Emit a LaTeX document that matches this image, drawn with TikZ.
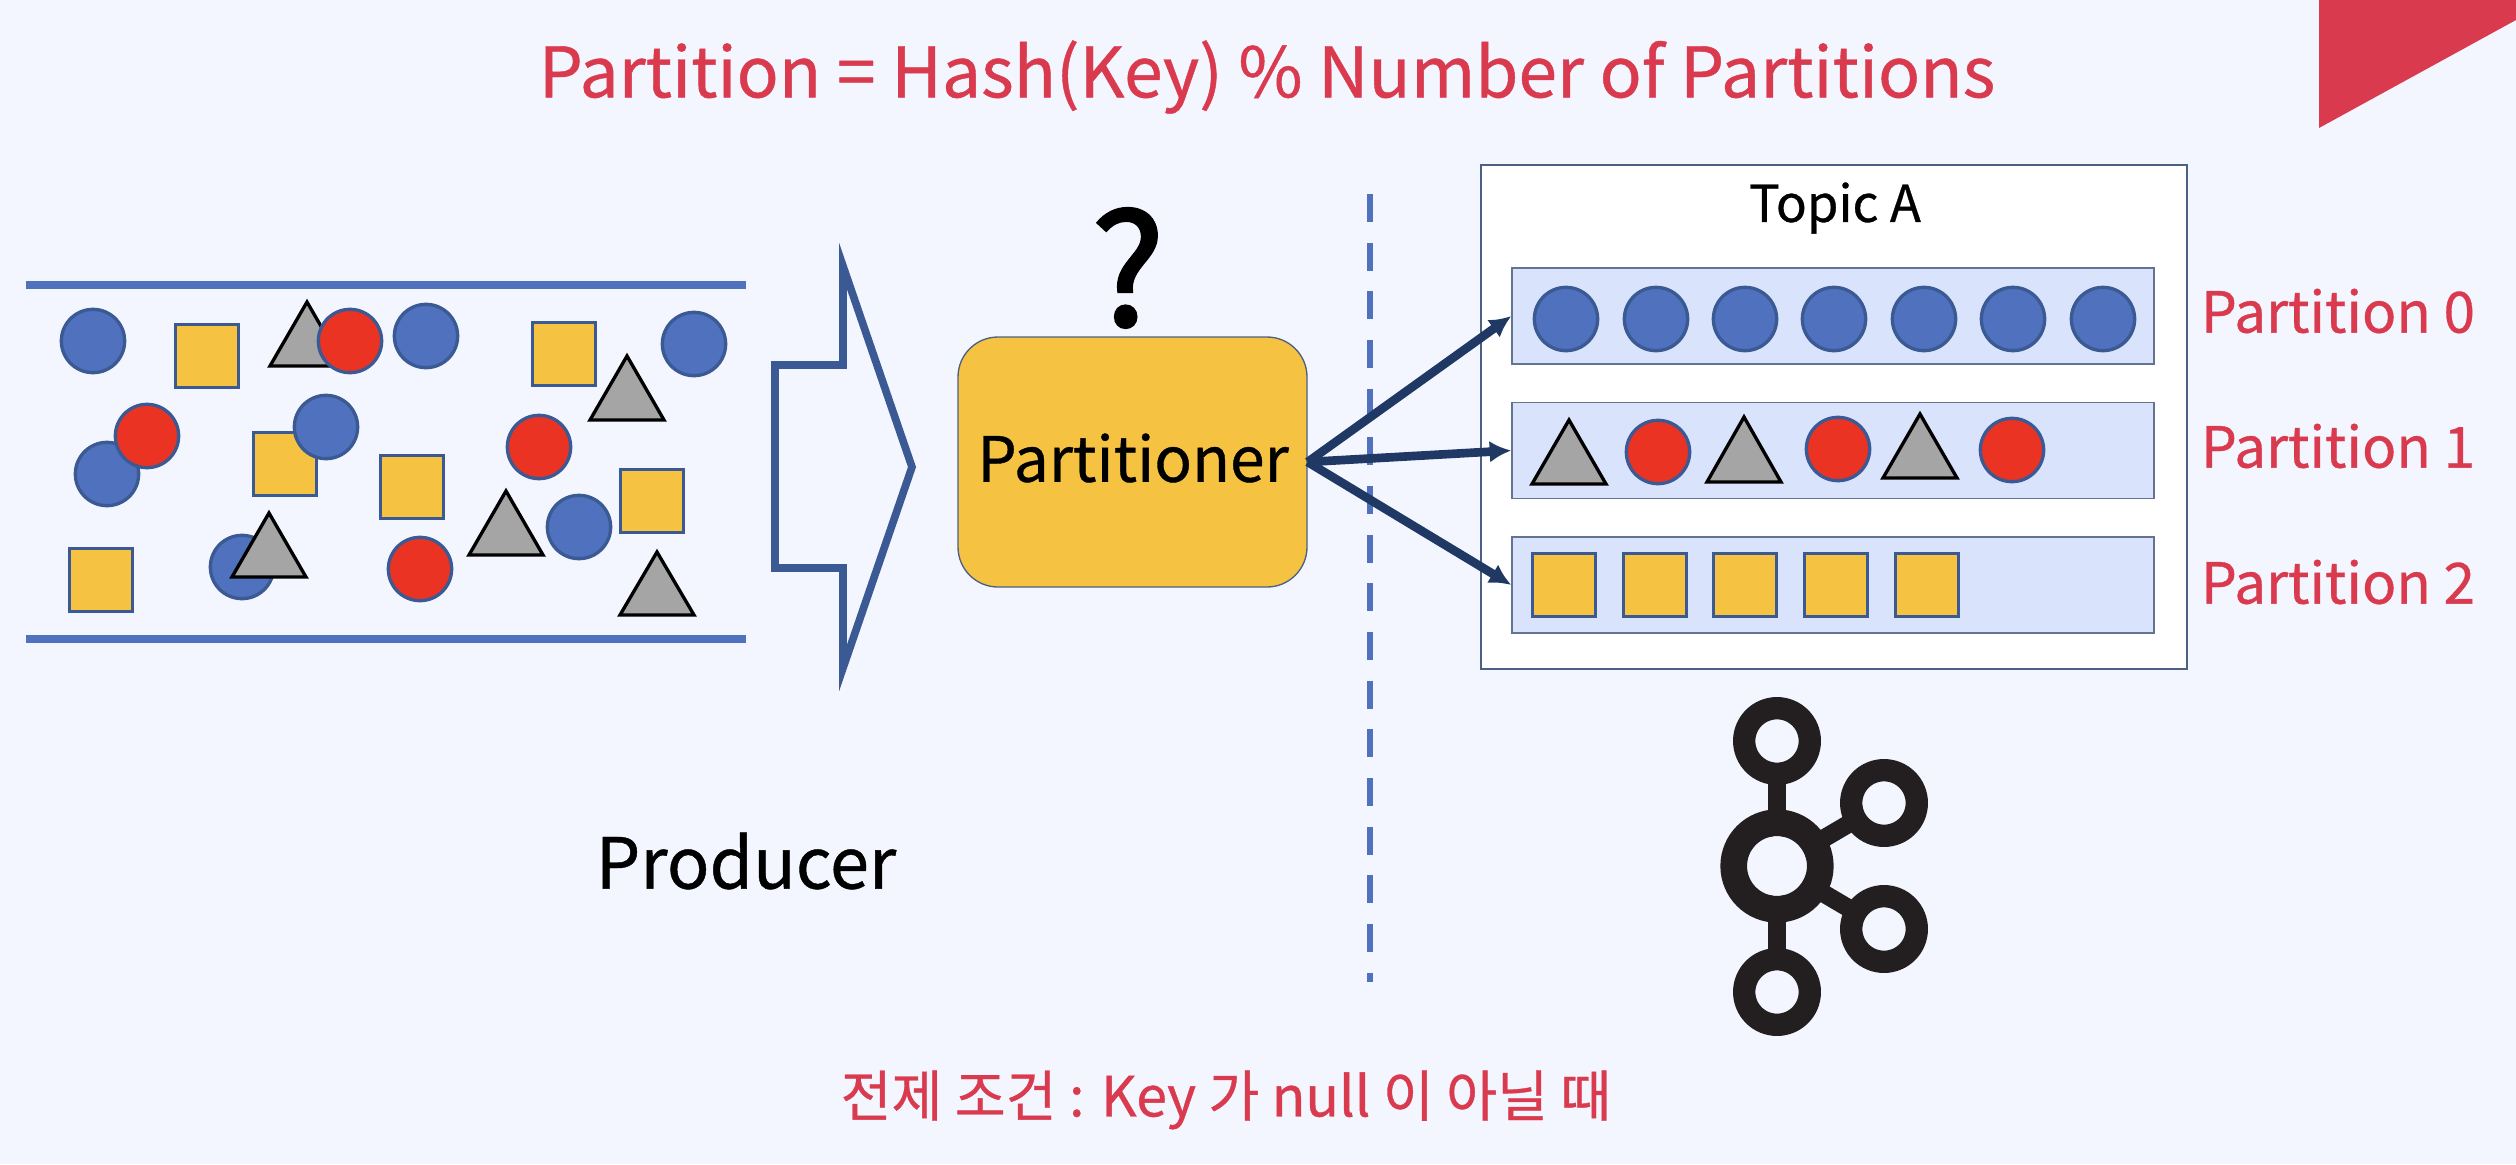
\documentclass[tikz,border=0pt]{standalone}
\usepackage{fontspec}
\setmainfont[FakeBold=0.6]{Noto Sans CJK KR}
\newfontfamily\qfont[FakeBold=2.2]{Noto Sans CJK KR}
\usetikzlibrary{arrows.meta}
\definecolor{bgc}{HTML}{F3F6FF}
\definecolor{redt}{HTML}{DA3A4E}
\definecolor{bluec}{HTML}{4F71BE}
\definecolor{blueo}{HTML}{3B5A94}
\definecolor{redc}{HTML}{EB3323}
\definecolor{yel}{HTML}{F5C242}
\definecolor{gry}{HTML}{A5A5A5}
\definecolor{navy}{HTML}{1F3864}
\definecolor{band}{HTML}{D9E3FB}
\definecolor{logo}{HTML}{231F20}
\tikzset{
 x=0.3pt,y=-0.3pt,
 ball/.style={circle,draw=blueo,line width=1pt,inner sep=0pt,minimum size=19pt},
 bb/.style={ball,fill=bluec},
 rb/.style={ball,fill=redc},
 sq/.style={rectangle,draw=blueo,line width=1pt,fill=yel,inner sep=0pt,minimum size=19pt},
 tri/.style={draw=black,line width=1pt,fill=gry,line join=miter},
 bandbox/.style={rectangle,draw=navy!70,line width=0.4pt,fill=band,inner sep=0pt,minimum width=192.6pt,minimum height=28.8pt},
 red label/.style={text=redt,font=\fontsize{17pt}{20pt}\selectfont,inner sep=0pt},
 blk label/.style={text=black,inner sep=0pt},
 conn/.style={navy,line width=2.6pt,-{Latex[length=6.5pt,width=6.5pt]}},
 ringo/.style={draw=logo,line width=6.7pt},
 ringc/.style={draw=logo,line width=8pt},
 bar/.style={draw=logo,line width=5.4pt},
}
\newcommand{\tria}[3]{\draw[tri] (#1,#2) -- (#1+37,#3) -- (#1-37,#3) -- cycle;}
\begin{document}
\begin{tikzpicture}
\useasboundingbox (0,0) rectangle (2516,1164);
\fill[bgc] (0,0) rectangle (2516,1164);
\fill[redt] (2319,0) -- (2516,0) -- (2516,20) -- (2319,128) -- cycle;
\node[red label,font=\fontsize{20.9pt}{26pt}\selectfont] (title) at (1267,77) {Partition = Hash(Key) \% Number of Partitions};
% stream
\coordinate (l1a) at (26,285); \coordinate (l1b) at (746,285);
\coordinate (l2a) at (26,639); \coordinate (l2b) at (746,639);
\draw[bluec,line width=2.2pt] (l1a) -- (l1b);
\draw[bluec,line width=2.2pt] (l2a) -- (l2b);
\tria{307}{302}{366}
\node[bb] (b1) at (93,341) {};
\node[bb] (b2) at (426,336) {};
\node[bb] (b3) at (694,344) {};
\node[bb] (b4) at (107,474) {};
\node[rb] (r1) at (350,341) {};
\node[rb] (r2) at (147,436) {};
\node[rb] (r3) at (539,447) {};
\node[rb] (r4) at (420,569) {};
\node[sq] (s1) at (207,356) {};
\node[sq] (s2) at (564,354) {};
\node[sq] (s3) at (285,464) {};
\node[sq] (s4) at (412,487) {};
\node[sq] (s5) at (652,501) {};
\node[sq] (s6) at (101,580) {};
\node[bb] (b5) at (326,427) {};
\node[bb] (b6) at (579,527) {};
\node[bb] (b7) at (242,567) {};
\tria{627}{356}{420}
\tria{506}{491}{555}
\tria{269}{513}{577}
\tria{657}{552}{615}
% big arrow
\draw[blueo,line width=2.3pt,miter limit=20] (775,365) -- (843,365) -- (843,266) -- (912,467) -- (843,668) -- (843,568) -- (775,568) -- cycle;
% partitioner
\node[rectangle,rounded corners=12pt,draw=navy!80,line width=0.4pt,fill=yel,inner sep=0pt,minimum width=104.7pt,minimum height=75pt] (part) at (1132.5,462) {};
\node[blk label,font=\fontsize{18.7pt}{22pt}\selectfont] (ptext) at (1133,458) {Partitioner};
\node[blk label,font=\qfont\fontsize{46pt}{50pt}\selectfont] (q) at (1128,268) {?};
\node[blk label,font=\fontsize{21.1pt}{25pt}\selectfont] (prod) at (746,861) {Producer};
% dashed
\coordinate (d1) at (1370,194); \coordinate (d2) at (1370,982);
\draw[bluec,line width=2pt,dash pattern=on 8.4pt off 6.2pt] (d1) -- (d2);
% topic
\node[rectangle,draw=navy!80,line width=0.4pt,fill=white,inner sep=0pt,minimum width=211.8pt,minimum height=151.2pt] (topic) at (1834,417) {};
\node[blk label,font=\fontsize{15.3pt}{18pt}\selectfont] (ttext) at (1835,208) {Topic A};
\node[bandbox] (p0) at (1833,316) {};
\node[bandbox] (p1) at (1833,450.5) {};
\node[bandbox] (p2) at (1833,585) {};
\node[bb] at (1566,319) {};
\node[bb] at (1656,319) {};
\node[bb] at (1745,319) {};
\node[bb] at (1834,319) {};
\node[bb] at (1924,319) {};
\node[bb] at (2013,319) {};
\node[bb] at (2103,319) {};
\tria{1569}{420}{484}
\node[rb] at (1658,452) {};
\tria{1744}{417}{482}
\node[rb] at (1838,449) {};
\tria{1920}{414}{478}
\node[rb] at (2012,450) {};
\node[sq] at (1564,585) {};
\node[sq] at (1655,585) {};
\node[sq] at (1745,585) {};
\node[sq] at (1836,585) {};
\node[sq] at (1927,585) {};
\draw[conn] (part.east) -- (p0.west);
\draw[conn] (part.east) -- (p1.west);
\draw[conn] (part.east) -- (p2.west);
\node[red label] (l0) at (2338,311) {Partition 0};
\node[red label] (l1) at (2338,446) {Partition 1};
\node[red label] (l2) at (2338,582) {Partition 2};
% logo
\coordinate (kc) at (1777,866);
\coordinate (kt) at (1777,741);
\coordinate (kb) at (1777,992);
\coordinate (kr) at (1884,803);
\coordinate (ks) at (1884,929);
\draw[bar] (kc) -- (kt);
\draw[bar] (kc) -- (kb);
\draw[bar] (kc) -- (kr);
\draw[bar] (kc) -- (ks);
\fill[bgc] (kc) circle (30);
\draw[ringc] (kc) circle (43.3);
\foreach \k in {kt,kb,kr,ks}{\fill[bgc] (\k) circle (22); \draw[ringo] (\k) circle (32.8);}
\node[red label,font=\fontsize{16.6pt}{20pt}\selectfont] (cond) at (1226,1100) {전제 조건 : Key 가 null 이 아닐 때};
\end{tikzpicture}
\end{document}
